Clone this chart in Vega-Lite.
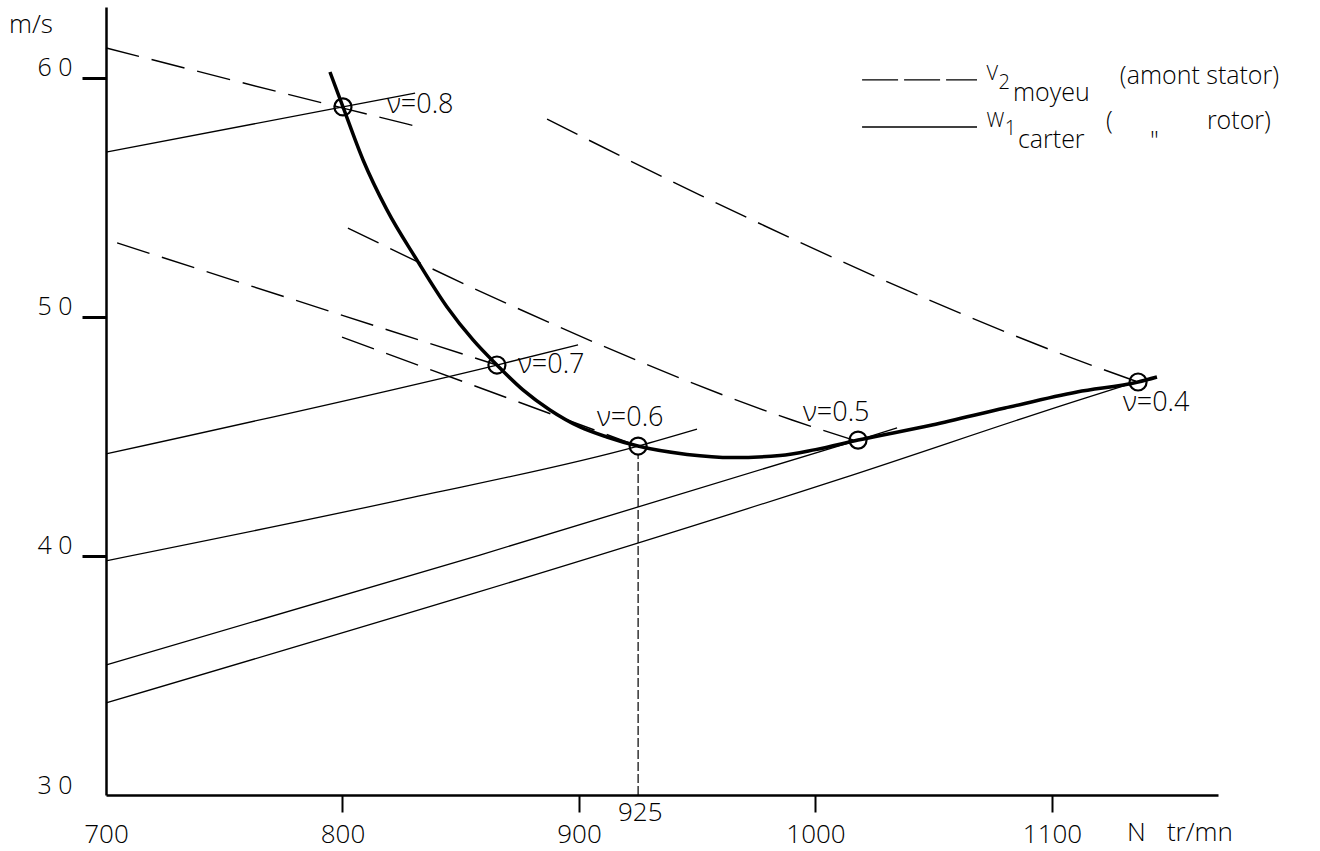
{
  "$schema": "https://vega.github.io/schema/vega-lite/v6.json",
  "width": 1112,
  "height": 788,
  "autosize": {"type": "none"},
  "padding": {"left": 106, "top": 7, "right": 102, "bottom": 56},
  "background": "white",
  "config": {"view": {"stroke": null}, "font": "Open Sans"},
  "datasets": {
    "curve": [
      {"N": 794.7, "v": 60.25}, {"N": 800.2, "v": 58.79}, {"N": 808.7, "v": 56.57},
      {"N": 818.8, "v": 54.48}, {"N": 831.5, "v": 52.38}, {"N": 844.2, "v": 50.42},
      {"N": 855.2, "v": 49.04}, {"N": 865.3, "v": 47.99}, {"N": 876.3, "v": 46.95},
      {"N": 887.7, "v": 46.11}, {"N": 900.4, "v": 45.4}, {"N": 911.8, "v": 44.98},
      {"N": 924.9, "v": 44.6}, {"N": 945.7, "v": 44.25}, {"N": 965, "v": 44.12},
      {"N": 985, "v": 44.2}, {"N": 1000, "v": 44.45}, {"N": 1018, "v": 44.85},
      {"N": 1049.3, "v": 45.48}, {"N": 1080.1, "v": 46.19}, {"N": 1110.6, "v": 46.86},
      {"N": 1136.4, "v": 47.28}, {"N": 1144.4, "v": 47.49}
    ],
    "w1": [
      {"id": "S1", "N": 700, "v": 56.9}, {"id": "S1", "N": 800.2, "v": 58.79}, {"id": "S1", "N": 830.7, "v": 59.37},
      {"id": "S2", "N": 700, "v": 44.27}, {"id": "S2", "N": 865.3, "v": 47.99}, {"id": "S2", "N": 899.6, "v": 48.83},
      {"id": "S3", "N": 700, "v": 39.8}, {"id": "S3", "N": 824.3, "v": 42.34}, {"id": "S3", "N": 925, "v": 44.6}, {"id": "S3", "N": 949.9, "v": 45.31},
      {"id": "S4", "N": 700, "v": 35.44}, {"id": "S4", "N": 858.1, "v": 40.04}, {"id": "S4", "N": 1018, "v": 44.85}, {"id": "S4", "N": 1034.5, "v": 45.36},
      {"id": "S5", "N": 700, "v": 33.85}, {"id": "S5", "N": 1011.6, "v": 43.26}, {"id": "S5", "N": 1114, "v": 46.61}, {"id": "S5", "N": 1133, "v": 47.2}
    ],
    "v2": [
      {"id": "E", "N": 700, "v": 61.26}, {"id": "E", "N": 800.2, "v": 58.74}, {"id": "E", "N": 830.7, "v": 57.99},
      {"id": "A", "N": 704.7, "v": 53.1}, {"id": "A", "N": 865.3, "v": 47.99},
      {"id": "B", "N": 799.8, "v": 49.16}, {"id": "B", "N": 925, "v": 44.6},
      {"id": "C", "N": 802.3, "v": 53.72}, {"id": "C", "N": 870, "v": 50.54}, {"id": "C", "N": 990.1, "v": 45.69}, {"id": "C", "N": 1016, "v": 44.85},
      {"id": "D", "N": 886.5, "v": 58.28}, {"id": "D", "N": 951.2, "v": 55.1}, {"id": "D", "N": 1030.7, "v": 51.46}, {"id": "D", "N": 1107.2, "v": 48.33}, {"id": "D", "N": 1136.4, "v": 47.28}
    ],
    "legDash": [{"N": 1019.7, "v": 59.92}, {"N": 1068.3, "v": 59.92}],
    "legSolid": [{"N": 1019.7, "v": 57.95}, {"N": 1068.3, "v": 57.95}],
    "circles": [
      {"nu": 0.8, "N": 800.2, "v": 58.79}, {"nu": 0.7, "N": 865.3, "v": 47.99},
      {"nu": 0.6, "N": 925, "v": 44.6}, {"nu": 0.5, "N": 1018, "v": 44.85},
      {"nu": 0.4, "N": 1136.4, "v": 47.28}
    ],
    "nuLabels": [
      {"N": 818.8, "v": 58.87, "t": "ν=0.8"}, {"N": 874.2, "v": 47.99, "t": "ν=0.7"},
      {"N": 907.6, "v": 45.77, "t": "ν=0.6"}, {"N": 994.7, "v": 45.98, "t": "ν=0.5"},
      {"N": 1130, "v": 46.4, "t": "ν=0.4"}
    ],
    "legBig": [
      {"N": 1128.7, "v": 60.08, "t": "(amont stator)"}, {"N": 1083.5, "v": 59.37, "t": "moyeu"},
      {"N": 1085.6, "v": 57.41, "t": "carter"}, {"N": 1122.8, "v": 58.2, "t": "("},
      {"N": 1141.4, "v": 57.35, "t": "\""}, {"N": 1165.5, "v": 58.2, "t": "rotor)"}
    ],
    "legSmall": [
      {"N": 1072.3, "v": 60.17, "t": "V"}, {"N": 1077.4, "v": 59.79, "t": "2"},
      {"N": 1072.3, "v": 58.2, "t": "W"}, {"N": 1080.0, "v": 57.85, "t": "1"}
    ],
    "axisText": [
      {"N": 916.5, "v": 29.25, "t": "925"}, {"N": 1131.7, "v": 28.41, "t": "N"},
      {"N": 1148.6, "v": 28.41, "t": "tr/mn"}, {"N": 659, "v": 62.22, "t": "m/s"}
    ],
    "vline": [{"N": 925, "v": 30, "v2": 44.25}]
  },
  "encoding": {
    "x": {
      "field": "N", "type": "quantitative",
      "scale": {"domain": [700, 1170.2], "nice": false, "zero": false},
      "axis": {
        "title": null, "values": [700, 800, 900, 1000, 1100], "grid": false,
        "domainColor": "black", "domainWidth": 2.5,
        "tickSize": 17, "tickWidth": 2,
        "tickColor": {"condition": {"test": "datum.value == 700", "value": "transparent"}, "value": "black"},
        "labelFontSize": 26, "labelFont": "Open Sans", "labelFontWeight": 300, "labelColor": "black",
        "labelPadding": 9, "labelFlush": false, "labelOverlap": false, "labelBound": false, "format": "d"
      }
    },
    "y": {
      "field": "v", "type": "quantitative",
      "scale": {"domain": [30, 62.97], "nice": false, "zero": false},
      "axis": {
        "title": null, "values": [30, 40, 50, 60], "grid": false,
        "domainColor": "black", "domainWidth": 2.5,
        "tickSize": 24, "tickWidth": 3,
        "tickColor": {"condition": {"test": "datum.value == 30", "value": "transparent"}, "value": "black"},
        "labelFontSize": 25, "labelFont": "Open Sans", "labelFontWeight": 300, "labelColor": "black",
        "labelExpr": "slice(datum.label,0,1) + ' ' + slice(datum.label,1)",
        "labelPadding": 10, "labelOffset": -10, "labelFlush": false, "labelOverlap": false, "labelBound": false
      }
    }
  },
  "layer": [
    {
      "data": {"name": "v2"},
      "mark": {"type": "line", "stroke": "black", "strokeWidth": 1.4, "strokeDash": [34, 13], "interpolate": "monotone"},
      "encoding": {"detail": {"field": "id"}}
    },
    {
      "data": {"name": "w1"},
      "mark": {"type": "line", "stroke": "black", "strokeWidth": 1.3, "interpolate": "monotone"},
      "encoding": {"detail": {"field": "id"}}
    },
    {
      "data": {"name": "legDash"},
      "mark": {"type": "line", "stroke": "black", "strokeWidth": 1.4, "strokeDash": [36, 6]},
      "encoding": {}
    },
    {
      "data": {"name": "legSolid"},
      "mark": {"type": "line", "stroke": "black", "strokeWidth": 1.4},
      "encoding": {}
    },
    {
      "data": {"name": "curve"},
      "mark": {"type": "line", "stroke": "black", "strokeWidth": 3.5, "interpolate": "monotone"},
      "encoding": {}
    },
    {
      "data": {"name": "vline"},
      "mark": {"type": "rule", "stroke": "black", "strokeWidth": 1.2, "strokeDash": [9, 3]},
      "encoding": {"y2": {"field": "v2"}}
    },
    {
      "data": {"name": "circles"},
      "mark": {"type": "point", "shape": "circle", "filled": false, "size": 290, "strokeWidth": 2.2, "color": "black", "opacity": 1}
    },
    {
      "data": {"name": "nuLabels"},
      "mark": {"type": "text", "align": "left", "baseline": "middle", "fontSize": 27, "font": "Open Sans", "fontWeight": 300, "color": "black"},
      "encoding": {"text": {"field": "t"}}
    },
    {
      "data": {"name": "legBig"},
      "mark": {"type": "text", "align": "left", "baseline": "middle", "fontSize": 25, "font": "Open Sans", "fontWeight": 300, "color": "black"},
      "encoding": {"text": {"field": "t"}}
    },
    {
      "data": {"name": "legSmall"},
      "mark": {"type": "text", "align": "left", "baseline": "middle", "fontSize": 20, "font": "Open Sans", "fontWeight": 300, "color": "black"},
      "encoding": {"text": {"field": "t"}}
    },
    {
      "data": {"name": "axisText"},
      "mark": {"type": "text", "align": "left", "baseline": "middle", "fontSize": 26, "font": "Open Sans", "fontWeight": 300, "color": "black"},
      "encoding": {"text": {"field": "t"}}
    }
  ]
}
